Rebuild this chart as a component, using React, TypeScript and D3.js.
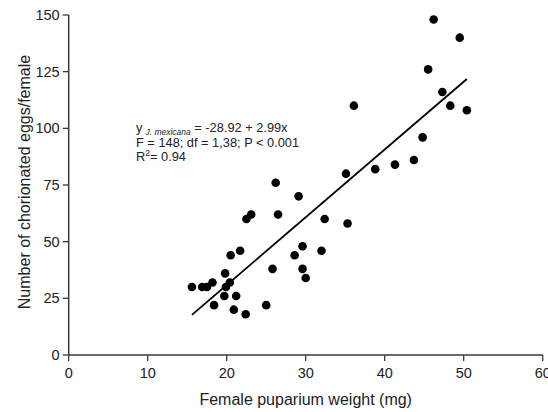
import React from "react";
import * as d3 from "d3";

// puparium weight (mg) vs chorionated eggs per female
const weights = [
  15.6, 16.9, 17.5, 18.2, 18.4, 19.8, 20.4, 19.9, 19.7, 21.2,
  20.9, 22.4, 20.5, 21.7, 22.5, 23.1, 26.5, 25.8, 25.0, 26.2,
  29.1, 32.4, 35.1, 35.3, 38.8, 29.6, 28.6, 32.0, 29.6, 30.0,
  36.1, 41.3, 43.7, 44.8, 45.5, 46.2, 49.5, 47.3, 48.3, 50.4,
];
const eggs = [
  30, 30, 30, 32, 22, 36, 32, 30, 26, 26,
  20, 18, 44, 46, 60, 62, 62, 38, 22, 76,
  70, 60, 80, 58, 82, 48, 44, 46, 38, 34,
  110, 84, 86, 96, 126, 148, 140, 116, 110, 108,
];

const xTicks = [0, 10, 20, 30, 40, 50, 60];
const yTicks = [0, 25, 50, 75, 100, 125, 150];

// fitted line reported on the chart
const intercept = -28.92;
const slope = 2.99;

const W = 548;
const H = 412;
const margin = { left: 68.7, right: 5.3, top: 15, bottom: 57 };
const font = "Arial, 'Liberation Sans', sans-serif";
const axisColor = "#3a3a3a";
const textColor = "#222";

export default function App() {
  const x = d3.scaleLinear().domain([0, 60]).range([margin.left, W - margin.right]);
  const y = d3.scaleLinear().domain([0, 150]).range([H - margin.bottom, margin.top]);

  const xExtent = d3.extent(weights) as [number, number];
  const fit = d3.line<number>()
    .x(d => x(d))
    .y(d => y(intercept + slope * d));

  const x0 = x(0);
  const y0 = y(0);

  return (
    <svg
      width={W}
      height={H}
      style={{ position: "fixed", left: 0, top: 0, background: "#fff" }}
      fontFamily={font}
    >
      {/* axes */}
      <line x1={x0} x2={x(60)} y1={y0} y2={y0} stroke={axisColor} strokeWidth={1.5} />
      <line x1={x0} x2={x0} y1={y0} y2={y(150)} stroke={axisColor} strokeWidth={1.5} />

      {xTicks.map(t => (
        <g key={"x" + t}>
          <line x1={x(t)} x2={x(t)} y1={y0} y2={y0 + 6} stroke={axisColor} strokeWidth={1.3} />
          <text x={x(t)} y={y0 + 23} textAnchor="middle" fontSize={14.5} fill={textColor}>
            {t}
          </text>
        </g>
      ))}

      {yTicks.map(t => (
        <g key={"y" + t}>
          <line x1={x0 - 6} x2={x0} y1={y(t)} y2={y(t)} stroke={axisColor} strokeWidth={1.3} />
          <text x={x0 - 9} y={y(t)} dy="0.35em" textAnchor="end" fontSize={14.5} fill={textColor}>
            {t}
          </text>
        </g>
      ))}

      {/* axis titles */}
      <text
        x={(x0 + x(60)) / 2}
        y={H - 7}
        textAnchor="middle"
        fontSize={16}
        fill={textColor}
      >
        Female puparium weight (mg)
      </text>
      <text
        transform={`translate(30, ${(y0 + y(150)) / 2 - 3}) rotate(-90)`}
        textAnchor="middle"
        fontSize={16}
        fill={textColor}
      >
        Number of chorionated eggs/female
      </text>

      {/* regression line */}
      <path d={fit(xExtent) || ""} fill="none" stroke="#000" strokeWidth={1.8} />

      {/* points */}
      {weights.map((w, i) => (
        <circle key={i} cx={x(w)} cy={y(eggs[i])} r={4.3} fill="#000" />
      ))}

      {/* equation */}
      <g fill={textColor} fontSize={12.8}>
        <text x={136} y={132}>
          y
          <tspan fontSize={8.5} fontStyle="italic" dx={3} dy={3}>J. mexicana</tspan>
          <tspan dy={-3}> = -28.92 + 2.99x</tspan>
        </text>
        <text x={136} y={146.5}>F = 148; df = 1,38; P &lt; 0.001</text>
        <text x={136} y={161}>
          R<tspan fontSize={8.5} dy={-5}>2</tspan>
          <tspan dy={5}>= 0.94</tspan>
        </text>
      </g>
    </svg>
  );
}
